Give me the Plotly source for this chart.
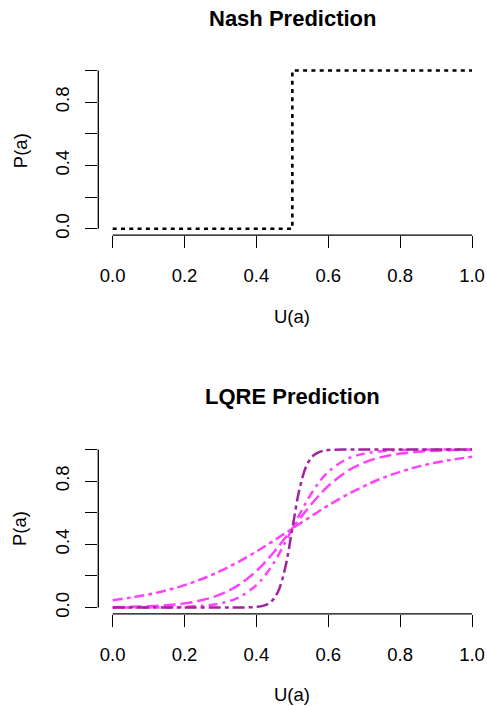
import plotly.graph_objects as go

# ---- data ----
nash_x = [0.0, 0.5, 0.5, 1.0]
nash_y = [0.0, 0.0, 1.0, 1.0]

u_grid = [0.0, 0.05, 0.1, 0.15, 0.2, 0.25, 0.3, 0.35, 0.4, 0.425, 0.45, 0.475, 0.5,
          0.525, 0.55, 0.575, 0.6, 0.65, 0.7, 0.75, 0.8, 0.85, 0.9, 0.95, 1.0]
p_lambda_low = [0.047, 0.063, 0.083, 0.109, 0.142, 0.182, 0.232, 0.289, 0.354, 0.389, 0.426, 0.463, 0.5,
                0.537, 0.574, 0.611, 0.646, 0.711, 0.768, 0.818, 0.858, 0.891, 0.917, 0.937, 0.953]
p_lambda_mid = [0.0025, 0.0045, 0.0082, 0.0148, 0.0266, 0.0474, 0.0832, 0.1419, 0.2315, 0.2891, 0.3543, 0.4256, 0.5,
                0.5744, 0.6457, 0.7109, 0.7685, 0.8581, 0.9168, 0.9526, 0.9734, 0.9852, 0.9918, 0.9955, 0.9975]
p_lambda_high = [0.0001, 0.0003, 0.0007, 0.0018, 0.0045, 0.0110, 0.0266, 0.0630, 0.1419, 0.2059, 0.2891, 0.3894, 0.5,
                 0.6106, 0.7109, 0.7941, 0.8581, 0.9370, 0.9734, 0.9890, 0.9955, 0.9982, 0.9993, 0.9997, 0.9999]

u_steep = [0.0, 0.1, 0.2, 0.3, 0.35, 0.4, 0.42, 0.44, 0.46, 0.48, 0.5,
           0.52, 0.54, 0.56, 0.58, 0.6, 0.65, 0.7, 0.8, 0.9, 1.0]
p_lambda_top = [0.0, 0.0, 0.0, 0.0, 0.0003, 0.0041, 0.0121, 0.0356, 0.0998, 0.2497, 0.5,
                0.7503, 0.9002, 0.9644, 0.9879, 0.9959, 0.9997, 1.0, 1.0, 1.0, 1.0]

x_ticks = [0.0, 0.2, 0.4, 0.6, 0.8, 1.0]
x_tick_text = ["0.0", "0.2", "0.4", "0.6", "0.8", "1.0"]
y_ticks = [0.0, 0.2, 0.4, 0.6, 0.8, 1.0]
y_tick_text = ["0.0", "", "0.4", "", "0.8", ""]

FONT = "Liberation Sans, Arial, Helvetica, sans-serif"
MAGENTA = "#FF40FF"
PURPLE = "#A3239F"

fig = go.Figure()

fig.add_trace(go.Scatter(x=nash_x, y=nash_y, mode="lines", xaxis="x", yaxis="y",
                         line=dict(color="black", width=2.6, dash="4px,4.3px")))

fig.add_trace(go.Scatter(x=u_grid, y=p_lambda_low, mode="lines", xaxis="x2", yaxis="y2",
                         line=dict(color=MAGENTA, width=2.5, dash="10px,4px,4px,4px", shape="spline")))
fig.add_trace(go.Scatter(x=u_grid, y=p_lambda_mid, mode="lines", xaxis="x2", yaxis="y2",
                         line=dict(color=MAGENTA, width=2.5, dash="12px,5px", shape="spline")))
fig.add_trace(go.Scatter(x=u_grid, y=p_lambda_high, mode="lines", xaxis="x2", yaxis="y2",
                         line=dict(color=MAGENTA, width=2.5, dash="3px,5px,9px,5px", shape="spline")))
fig.add_trace(go.Scatter(x=u_steep, y=p_lambda_top, mode="lines", xaxis="x2", yaxis="y2",
                         line=dict(color=PURPLE, width=2.5, dash="12px,4px,4px,4px", shape="spline")))

W, H = 487, 706

def fx(px):
    return px / W

def fy(py):
    return 1 - py / H

xdom = [fx(98.3), fx(486.4)]
ydom_top = [fy(236.4), fy(64.6)]
ydom_bot = [fy(617.4), fy(445.6)]

xaxis_common = dict(range=[-0.04, 1.04], domain=xdom, showgrid=False, zeroline=False, showline=False,
                    ticks="outside", ticklen=12, tickwidth=1.3, tickcolor="black",
                    tickvals=x_ticks, ticktext=x_tick_text, ticklabelstandoff=12,
                    tickfont=dict(family=FONT, size=18.5, color="black"))
yaxis_common = dict(range=[-0.04, 1.04], showgrid=False, zeroline=False, showline=False,
                    ticks="outside", ticklen=12, tickwidth=1.3, tickcolor="black",
                    tickvals=y_ticks, ticktext=y_tick_text, tickangle=-90, ticklabelstandoff=9,
                    tickfont=dict(family=FONT, size=18.5, color="black"))

fig.update_layout(
    width=W, height=H, margin=dict(l=0, r=0, t=0, b=0),
    paper_bgcolor="white", plot_bgcolor="white", showlegend=False,
    xaxis=dict(**xaxis_common, anchor="y"),
    yaxis=dict(**yaxis_common, domain=ydom_top, anchor="x"),
    xaxis2=dict(**xaxis_common, anchor="y2"),
    yaxis2=dict(**yaxis_common, domain=ydom_bot, anchor="x2"),
)

# axis lines spanning only the tick range (R style)
for xr, yr in (("x", "y"), ("x2", "y2")):
    fig.add_shape(type="line", xref=xr, yref=yr + " domain", x0=0, x1=1, y0=0, y1=0,
                  line=dict(color="black", width=1.3))
    fig.add_shape(type="line", xref=xr + " domain", yref=yr, x0=0, x1=0, y0=0, y1=1,
                  line=dict(color="black", width=1.3))

cx = (xdom[0] + xdom[1]) / 2
def ann(text, x, ypx, size, bold=False, angle=0, yanchor="middle"):
    fig.add_annotation(text=("<b>%s</b>" % text) if bold else text, x=x, y=fy(ypx),
                       xref="paper", yref="paper", showarrow=False, textangle=angle,
                       xanchor="center", yanchor=yanchor,
                       font=dict(family=FONT, size=size, color="black"))

ann("Nash Prediction", cx, 18.5, 22, bold=True)
ann("LQRE Prediction", cx, 399, 22, bold=True)
ann("U(a)", cx, 318, 18.5)
ann("U(a)", cx, 686, 18.5, yanchor="top")
ann("P(a)", fx(20), 152, 18.5, angle=-90)
ann("P(a)", fx(20), 532, 18.5, angle=-90)

fig.write_html(
    "out.html",
    config={"displayModeBar": False},
    post_script="document.body.style.margin='0';document.body.style.overflow='hidden';",
)
